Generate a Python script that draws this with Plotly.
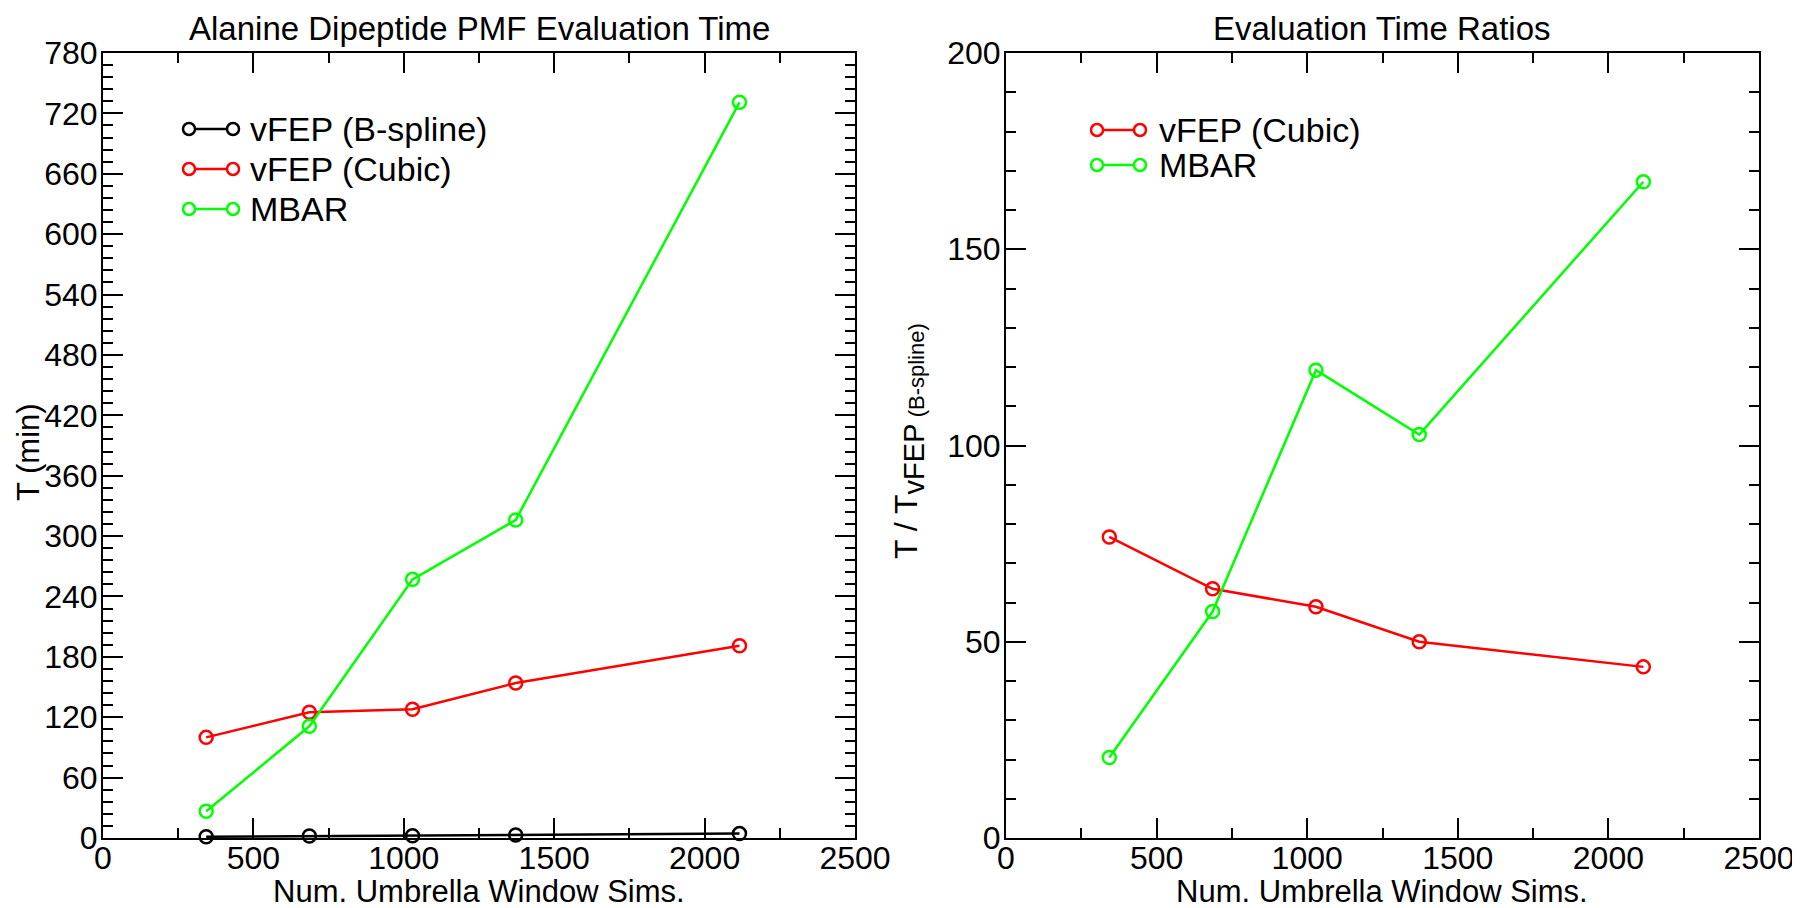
import plotly.graph_objects as go

# ---- data ----
x_sims = [343, 686, 1029, 1372, 2116]
t_bspline = [1.3, 1.96, 2.17, 3.08, 4.38]
t_cubic = [100, 125, 128, 154, 191]
t_mbar = [26.5, 111, 257, 316, 731]
ratio_cubic = [76.7, 63.5, 58.9, 50.0, 43.6]
ratio_mbar = [20.5, 57.7, 119.2, 102.8, 167.2]

left_names = ["vFEP (B-spline)", "vFEP (Cubic)", "MBAR"]
left_colors = ["#000000", "#ff0000", "#00ff00"]
right_names = ["vFEP (Cubic)", "MBAR"]
right_colors = ["#ff0000", "#00ff00"]

OFF = 8  # default page body margin
W, H = 1800 - OFF, 908 - OFF
FONT = "Liberation Sans, Arial, Helvetica, sans-serif"

fig = go.Figure()

def add_series(x, y, color, name, xa, ya):
    fig.add_trace(go.Scatter(
        x=x, y=y, mode="lines+markers", name=name, showlegend=False,
        line=dict(color=color, width=2.5),
        marker=dict(symbol="circle-open", size=13, color=color, line=dict(width=2.5, color=color)),
        xaxis=xa, yaxis=ya, cliponaxis=False))

for ys, c, n in zip([t_bspline, t_cubic, t_mbar], left_colors, left_names):
    add_series(x_sims, ys, c, n, "x", "y")
for ys, c, n in zip([ratio_cubic, ratio_mbar], right_colors, right_names):
    add_series(x_sims, ys, c, n, "x2", "y2")

def px(xp):
    return (xp - OFF) / W

def py(yp):
    return 1 - (yp - OFF) / H

axis_common = dict(
    showgrid=False, zeroline=False, showline=True, linecolor="black", linewidth=2,
    mirror="ticks", ticks="inside", ticklen=20, tickwidth=2, tickcolor="black",
    tickfont=dict(family=FONT, size=32, color="black"), automargin=False,
)
minor_common = dict(ticklen=10, tickwidth=2, ticks="inside", tickcolor="black")

fig.update_layout(
    width=W, height=H, margin=dict(l=0, r=0, t=0, b=0),
    paper_bgcolor="white", plot_bgcolor="white", showlegend=False,
    xaxis=dict(domain=[px(103), px(855)], range=[0, 2500], dtick=500, anchor="y",
               minor=dict(dtick=250, **minor_common), ticklabelstandoff=-9, **axis_common),
    yaxis=dict(domain=[py(838), py(53)], range=[0, 780], dtick=60, anchor="x",
               minor=dict(dtick=12, **minor_common), ticklabelstandoff=-3, **axis_common),
    xaxis2=dict(domain=[px(1006), px(1759)], range=[0, 2500], dtick=500, anchor="y2",
                minor=dict(dtick=250, **minor_common), ticklabelstandoff=-9, **axis_common),
    yaxis2=dict(domain=[py(838), py(53)], range=[0, 200], dtick=50, anchor="x2",
                minor=dict(dtick=10, **minor_common), ticklabelstandoff=-3, **axis_common),
)

ann = []
shapes = []
# titles
ann.append(dict(text="Alanine Dipeptide PMF Evaluation Time", x=px(479), y=py(28), xref="paper", yref="paper",
                showarrow=False, font=dict(family=FONT, size=33, color="black"), xanchor="center", yanchor="middle"))
ann.append(dict(text="Evaluation Time Ratios", x=px(1382), y=py(28), xref="paper", yref="paper",
                showarrow=False, font=dict(family=FONT, size=33, color="black"), xanchor="center", yanchor="middle"))
# x titles
for cx in (479, 1382):
    ann.append(dict(text="Num. Umbrella Window Sims.", x=px(cx), y=py(891), xref="paper", yref="paper",
                    showarrow=False, font=dict(family=FONT, size=31, color="black"), xanchor="center", yanchor="middle"))
# y titles
ann.append(dict(text="T (min)", x=px(28), y=py(452), xref="paper", yref="paper", textangle=-90,
                showarrow=False, font=dict(family=FONT, size=31, color="black"), xanchor="center", yanchor="middle"))
ann.append(dict(text="T / T<sub><span style='font-size:29px'>vFEP</span>"
                     "<span style='font-size:22px'> (B-spline)</span></sub>",
                x=px(909), y=py(441), xref="paper", yref="paper", textangle=-90,
                showarrow=False, font=dict(family=FONT, size=32, color="black"), xanchor="center", yanchor="middle"))

# legends (drawn manually)
def legend_entry(x0, x1, yc, color, name, tx):
    shapes.append(dict(type="line", xref="paper", yref="paper", x0=px(x0), x1=px(x1), y0=py(yc), y1=py(yc),
                       line=dict(color=color, width=2.5)))
    r = 6
    for cxp in (x0, x1):
        shapes.append(dict(type="circle", xref="paper", yref="paper", x0=px(cxp - r), x1=px(cxp + r),
                           y0=py(yc + r), y1=py(yc - r), line=dict(color=color, width=2.5), fillcolor="white"))
    ann.append(dict(text=name, x=px(tx), y=py(yc), xref="paper", yref="paper", showarrow=False,
                    font=dict(family=FONT, size=34, color="black"), xanchor="left", yanchor="middle"))

for i, (n, c) in enumerate(zip(left_names, left_colors)):
    legend_entry(189, 233, 129 + 40 * i, c, n, 248)
for i, (n, c) in enumerate(zip(right_names, right_colors)):
    legend_entry(1097, 1140, 130 + 35 * i, c, n, 1157)

fig.update_layout(annotations=ann, shapes=shapes)
fig.write_html("out.html")
